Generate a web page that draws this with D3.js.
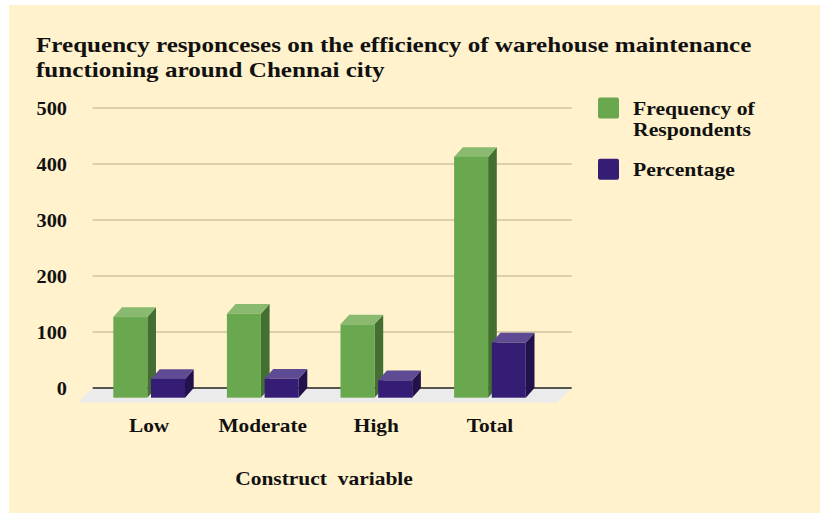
<!DOCTYPE html>
<html><head><meta charset="utf-8">
<script src="https://cdn.jsdelivr.net/npm/d3@7"></script>
<style>
html,body{margin:0;padding:0;background:#fff;}
svg{display:block;}
text{font-family:"Liberation Serif","Times New Roman",serif;font-weight:bold;fill:#111;}
</style></head>
<body>
<svg id="chart" width="820" height="513"></svg>
<script>
const categories = ["Low", "Moderate", "High", "Total"];
const seriesNames = ["Frequency of Respondents", "Percentage"];
const frequency = [144, 150, 131, 430];
const percentage = [33.6, 33.8, 31.1, 98.5];
const yTicks = [0, 100, 200, 300, 400, 500];
const titleLines = ["Frequency responceses on the efficiency of warehouse maintenance", "functioning around Chennai city"];
const xAxisTitle = "Construct\u00a0 variable";

const svg = d3.select("#chart");
svg.append("rect").attr("x", 9).attr("y", 5).attr("width", 811).attr("height", 508).attr("fill", "#FFF2CC");

// horizontal stretch helper (reference glyphs are wider than the installed serif)
function stretch(sel, k) {
  sel.each(function() {
    const len = this.getComputedTextLength();
    d3.select(this).attr("textLength", len * k).attr("lengthAdjust", "spacingAndGlyphs");
  });
}

// title
const title = svg.append("text").attr("x", 36).attr("y", 52).style("font-size", "22px");
title.selectAll("tspan").data(titleLines).join("tspan")
  .attr("x", 36).attr("dy", (d, i) => i ? 25 : 0).text(d => d);
stretch(title.selectAll("tspan"), 1.14);

const wallLeft = 92.7, wallRight = 571.7;
const y = d3.scaleLinear().domain([0, 500]).range([388, 108]);
const depthX = 8.7, depthY = 9.7;   // front face offset
const floorX = 14.5, floorY = 14.5;

// gridlines
svg.append("g").selectAll("line").data(yTicks.filter(t => t > 0)).join("line")
  .attr("x1", wallLeft).attr("x2", wallRight)
  .attr("y1", d => y(d)).attr("y2", d => y(d))
  .attr("stroke", "#cfc3a2").attr("stroke-width", 1.5);

// floor
svg.append("path")
  .attr("d", `M${wallLeft},${y(0)} L${wallRight},${y(0)} L${wallRight - floorX},${y(0) + floorY} L${wallLeft - floorX},${y(0) + floorY} Z`)
  .attr("fill", "#ebebeb");

// axis line
svg.append("line").attr("x1", wallLeft).attr("x2", wallRight)
  .attr("y1", y(0)).attr("y2", y(0)).attr("stroke", "#222").attr("stroke-width", 1.5);

// y axis labels
const yAxis = d3.axisLeft(y).tickValues(yTicks).tickSize(0).tickPadding(0);
const yg = svg.append("g").attr("transform", "translate(67,0)").call(yAxis);
yg.select(".domain").remove();
yg.selectAll("text").style("font-size", "19px").attr("font-family", null).attr("fill", "#111").attr("dy", "0.36em");
stretch(yg.selectAll("text"), 1.07);

// x bands (front faces)
const x0 = d3.scaleBand().domain(categories).range([92.35, 546.75]).paddingInner(0.369).paddingOuter(0.1845);
const x1 = d3.scaleBand().domain(seriesNames).range([0, x0.bandwidth()]).paddingInner(0.098);

const colors = {
  "Frequency of Respondents": {front: "#6aa84f", side: "#446f33", top: "#8aba70"},
  "Percentage": {front: "#351c75", side: "#22124c", top: "#5f4b94"}
};

const data = [];
categories.forEach((c, i) => {
  data.push({cat: c, s: seriesNames[0], v: frequency[i]});
  data.push({cat: c, s: seriesNames[1], v: percentage[i]});
});

const bars = svg.append("g").selectAll("g").data(data).join("g");
bars.each(function(d) {
  const g = d3.select(this);
  const xl = x0(d.cat) + x1(d.s);
  const w = x1.bandwidth();
  const yb = y(0) + depthY;
  const yt = y(d.v) + depthY;
  const c = colors[d.s];
  g.append("path").attr("d", `M${xl + w},${yt} L${xl + w + depthX},${yt - depthY} L${xl + w + depthX},${yb - depthY} L${xl + w},${yb} Z`).attr("fill", c.side);
  g.append("path").attr("d", `M${xl},${yt} L${xl + depthX},${yt - depthY} L${xl + w + depthX},${yt - depthY} L${xl + w},${yt} Z`).attr("fill", c.top);
  g.append("rect").attr("x", xl).attr("y", yt).attr("width", w).attr("height", yb - yt).attr("fill", c.front);
});

// category labels
const catLabels = svg.append("g").selectAll("text").data(categories).join("text")
  .attr("x", d => x0(d) + x0.bandwidth() / 2).attr("y", 431.7)
  .attr("text-anchor", "middle").style("font-size", "19px").text(d => d);
stretch(catLabels, 1.12);

// axis title
const axTitle = svg.append("text").attr("x", 324).attr("y", 485).attr("text-anchor", "middle")
  .style("font-size", "19px").text(xAxisTitle);
stretch(axTitle, 1.13);

// legend
const legendItems = [
  {s: seriesNames[0], lines: ["Frequency of", "Respondents"], y: 97.5},
  {s: seriesNames[1], lines: ["Percentage"], y: 158.7}
];
const lg = svg.append("g").selectAll("g").data(legendItems).join("g");
lg.append("rect").attr("x", 598).attr("y", d => d.y).attr("width", 21).attr("height", 21)
  .attr("rx", 2).attr("fill", d => colors[d.s].front);
lg.append("text").attr("x", 633).attr("y", d => d.y + 17.5).style("font-size", "19px")
  .selectAll("tspan").data(d => d.lines).join("tspan")
  .attr("x", 633).attr("dy", (d, i) => i ? 21 : 0).text(d => d);
stretch(lg.selectAll("tspan"), 1.14);
</script>
</body></html>
